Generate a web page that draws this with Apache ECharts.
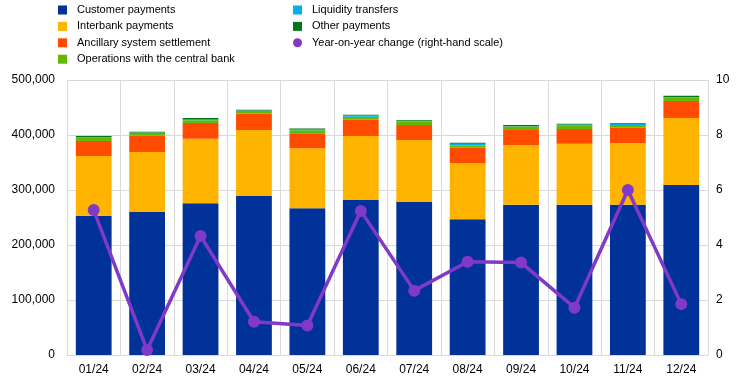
<!DOCTYPE html>
<html><head><meta charset="utf-8">
<script src="https://cdn.jsdelivr.net/npm/echarts@6/dist/echarts.min.js"></script>
<style>html,body{margin:0;padding:0;background:#fff}#c{width:738px;height:382px}</style>
</head><body><div id="c"></div>
<script>
const categories = ['01/24','02/24','03/24','04/24','05/24','06/24','07/24','08/24','09/24','10/24','11/24','12/24'];
const customerPayments = [253000,260000,276000,289000,267000,282000,278000,247000,273000,273000,273000,309000];
const interbankPayments = [109000,109000,117000,120000,109000,116000,113000,102000,109000,111000,112500,122000];
const ancillarySettlement = [27000,30000,29000,30000,27000,30000,27000,28000,27000,27000,27500,31000];
const centralBankOps = [6000,5000,5000,5000,5500,5000,7000,4000,7000,6000,5000,6000];
const liquidityTransfers = [1000,500,2000,500,1500,2500,500,3000,500,2000,2500,500];
const otherPayments = [2000,1500,2000,1500,2000,1500,1500,2000,1500,1500,1500,3000];
const yoyChange = [5.27,0.18,4.33,1.21,1.07,5.24,2.34,3.39,3.36,1.72,6.0,1.85];
const leftTicks = [0,100000,200000,300000,400000,500000];
const rightTicks = [0,2,4,6,8,10];

const font = 'Liberation Sans, Arial, sans-serif';
const colors = {
  cust:'#003299', inter:'#ffb400', anc:'#ff4b00', cb:'#65b800', liq:'#00b1ea', oth:'#007816', yoy:'#8139c8'
};
function bar(name, data, color){
  return {name, type:'bar', stack:'t', data, barWidth:'67%', itemStyle:{color}, yAxisIndex:0};
}
const chart = echarts.init(document.getElementById('c'), null, {renderer:'canvas'});
const legendText = {fontFamily:font, fontSize:11, color:'#000', lineHeight:14, padding:[0,0,0,5]};
chart.setOption({
  animation:false,
  textStyle:{fontFamily:font},
  grid:{left:67, right:30, top:80, bottom:27},
  legend:[
    {orient:'vertical', left:58, top:3, padding:0, itemWidth:9, itemHeight:9, itemGap:2.4, icon:'rect',
     textStyle:legendText, selectedMode:false,
     data:['Customer payments','Interbank payments','Ancillary system settlement','Operations with the central bank']},
    {orient:'vertical', left:293, top:3, padding:0, itemWidth:9, itemHeight:9, itemGap:2.4,
     textStyle:legendText, selectedMode:false,
     data:[{name:'Liquidity transfers',icon:'rect'},{name:'Other payments',icon:'rect'},{name:'Year-on-year change (right-hand scale)',icon:'circle'}]}
  ],
  xAxis:{type:'category', data:categories, boundaryGap:true,
    axisLine:{lineStyle:{color:'#d9d9d9'}}, axisTick:{show:false},
    axisLabel:{color:'#000', fontSize:12, fontFamily:font, margin:9, interval:0},
    splitLine:{show:true, interval:0, lineStyle:{color:'#d9d9d9', width:1}}},
  yAxis:[
    {type:'value', min:leftTicks[0], max:leftTicks[leftTicks.length-1], interval:100000,
     axisLine:{show:false}, axisTick:{show:false},
     axisLabel:{color:'#000', fontSize:12, fontFamily:font, margin:12,
       formatter:v=>v.toLocaleString('en-US')},
     splitLine:{lineStyle:{color:'#d9d9d9', width:1}}},
    {type:'value', min:rightTicks[0], max:rightTicks[rightTicks.length-1], interval:2,
     axisLine:{show:false}, axisTick:{show:false},
     axisLabel:{color:'#000', fontSize:12, fontFamily:font, margin:8},
     splitLine:{show:false}}
  ],
  series:[
    bar('Customer payments', customerPayments, colors.cust),
    bar('Interbank payments', interbankPayments, colors.inter),
    bar('Ancillary system settlement', ancillarySettlement, colors.anc),
    bar('Operations with the central bank', centralBankOps, colors.cb),
    bar('Liquidity transfers', liquidityTransfers, colors.liq),
    bar('Other payments', otherPayments, colors.oth),
    {name:'Year-on-year change (right-hand scale)', type:'line', yAxisIndex:1, data:yoyChange,
     symbol:'circle', symbolSize:12, lineStyle:{color:colors.yoy, width:3.5},
     itemStyle:{color:colors.yoy}, z:10}
  ]
});
</script></body></html>
